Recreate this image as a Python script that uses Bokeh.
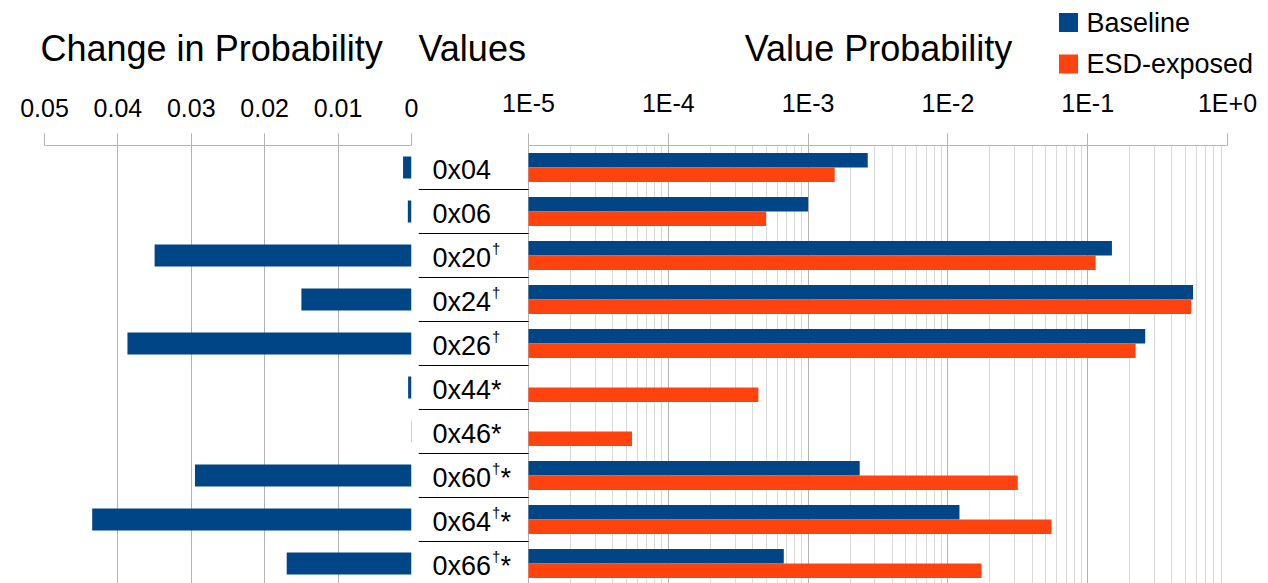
import numpy as np
from bokeh.plotting import figure
from bokeh.layouts import row, column
from bokeh.models import (ColumnDataSource, Range1d, FixedTicker, CustomJSTickFormatter)
from bokeh.transform import dodge
from bokeh.core.properties import value
from bokeh.embed import file_html
from bokeh.resources import INLINE

# ---------------- data ----------------
values = ["0x04", "0x06", "0x20", "0x24", "0x26", "0x44", "0x46", "0x60", "0x64", "0x66"]
dagger_marks = ["", "", "†", "†", "†", "", "", "†", "†", "†"]
star_marks = ["", "", "", "", "", "*", "*", "*", "*", "*"]
change_in_probability = [0.00115, 0.0005, 0.0350, 0.0150, 0.0387,
                         0.00046, 0.00006, 0.0295, 0.0435, 0.0170]
baseline_probability = [2.67e-3, 1.0e-3, 0.149, 0.567, 0.258,
                        0.0, 0.0, 2.34e-3, 0.0121, 6.7e-4]
esd_probability = [1.55e-3, 5.0e-4, 0.114, 0.550, 0.220,
                   4.41e-4, 5.5e-5, 0.0316, 0.0551, 0.0174]
change_ticks = [0.05, 0.04, 0.03, 0.02, 0.01, 0.0]
prob_ticks = [1e-5, 1e-4, 1e-3, 1e-2, 1e-1, 1e0]
series_names = ["Baseline", "ESD-exposed"]
panel_titles = ["Change in Probability", "Values", "Value Probability"]

# ---------------- style / layout ----------------
BLUE = "#004586"
ORANGE = "#ff420e"
SERIES_COLORS = [BLUE, ORANGE]
GRID = "#b3b3b3"
MINOR_GRID = "#d9d9d9"
FONT = "Liberation Sans"

CANVAS_W, CANVAS_H = 1268, 583
HEAD_H = 80                    # strip holding the panel titles and the key
TOP = 145                      # frame top on the page (px)
ROW_PX = 44                    # height of one value row
BODY_H = CANVAS_H - HEAD_H
FRAME_H = CANVAS_H - TOP
Y_TOP = -0.5
Y_BOTTOM = Y_TOP + FRAME_H / ROW_PX

LEFT_W, LEFT_MARGIN, LEFT_PAD = 418, 44, 7
RIGHT_W = CANVAS_W - LEFT_W
RIGHT_PAD = 41
RIGHT_FRAME_W = RIGHT_W - RIGHT_PAD
COLUMN_PX = 110                # value-label column inside the right frame
DECADES = np.log10(prob_ticks[-1]) - np.log10(prob_ticks[0])
DECADE_PX = (RIGHT_FRAME_W - COLUMN_PX) / DECADES
X_LO = 10 ** (np.log10(prob_ticks[0]) - COLUMN_PX / DECADE_PX)

n = len(values)
idx = list(range(n))


def style_axis(ax):
    ax.axis_line_color = GRID
    ax.major_tick_line_color = GRID
    ax.major_tick_out = 12
    ax.major_tick_in = 0
    ax.minor_tick_line_color = None
    ax.major_label_text_font = FONT
    ax.major_label_text_font_size = "25px"
    ax.major_label_text_color = "#000000"
    ax.major_label_standoff = 17


def bare(p):
    p.outline_line_color = None
    p.background_fill_color = "white"
    p.border_fill_color = "white"


# ---------------- heading strip: panel titles + series key ----------------
head = figure(width=CANVAS_W, height=HEAD_H,
              x_range=Range1d(0, CANVAS_W), y_range=Range1d(HEAD_H, 0),
              x_axis_location=None, y_axis_location=None,
              toolbar_location=None, output_backend="svg",
              min_border=0)
bare(head)
head.xgrid.visible = False
head.ygrid.visible = False
title_src = ColumnDataSource(dict(text=panel_titles[:2], x=[40, 418]))
head.text(x="x", y=61, text="text", source=title_src, y_offset=-13,
          text_font=value(FONT), text_font_size=value("36px"),
          text_align="left", text_baseline="alphabetic", text_color="#000000")
head.text(x=[878], y=61, text=[panel_titles[2]], y_offset=-13,
          text_font=value(FONT), text_font_size=value("36px"),
          text_align="center", text_baseline="alphabetic", text_color="#000000")

key_src = ColumnDataSource(dict(name=series_names, color=SERIES_COLORS,
                                y=[22, 63.5]))
head.scatter(x=1068, y="y", marker="square", size=19, source=key_src,
             fill_color="color", line_color=None)
head.text(x=1086, y="y", text="name", source=key_src, y_offset=0,
          text_font=value(FONT), text_font_size=value("27px"),
          text_align="left", text_baseline="alphabetic", text_color="#000000")

# ---------------- left: change in probability ----------------
left = figure(width=LEFT_W, height=BODY_H,
              x_range=Range1d(change_ticks[0], change_ticks[-1]),
              y_range=Range1d(Y_BOTTOM, Y_TOP),
              x_axis_location="above", y_axis_location=None,
              toolbar_location=None, output_backend="svg",
              min_border_left=LEFT_MARGIN, min_border_right=LEFT_PAD,
              min_border_top=TOP - HEAD_H, min_border_bottom=0)
bare(left)
left.xaxis.ticker = FixedTicker(ticks=change_ticks)
left.xaxis.formatter = CustomJSTickFormatter(
    code="return tick == 0 ? '0' : tick.toFixed(2);")
style_axis(left.xaxis[0])
left.xgrid.grid_line_color = GRID
left.ygrid.grid_line_color = None

change_src = ColumnDataSource(dict(idx=idx, change=change_in_probability))
left.hbar(y="idx", left=0, right="change", height=0.5, source=change_src,
          fill_color=BLUE, line_color=None)

# ---------------- right: value labels + value probability ----------------
right = figure(width=RIGHT_W, height=BODY_H, x_axis_type="log",
               x_range=Range1d(X_LO, prob_ticks[-1]),
               y_range=Range1d(Y_BOTTOM, Y_TOP),
               x_axis_location="above", y_axis_location=None,
               toolbar_location=None, output_backend="svg",
               min_border_left=0, min_border_right=RIGHT_PAD,
               min_border_top=TOP - HEAD_H, min_border_bottom=0)
bare(right)
minor = [m * 10.0 ** k for k in range(-5, 0) for m in range(2, 10)]
right.xaxis.ticker = FixedTicker(ticks=prob_ticks, minor_ticks=minor)
right.xaxis.formatter = CustomJSTickFormatter(code="""
    const e = Math.round(Math.log10(tick));
    return '1E' + (e < 0 ? '-' : '+') + Math.abs(e);
""")
right.xaxis.bounds = (prob_ticks[0], prob_ticks[-1])
style_axis(right.xaxis[0])
right.xgrid.grid_line_color = GRID
right.xgrid.minor_grid_line_color = MINOR_GRID
right.ygrid.grid_line_color = None

base_rows = [i for i in idx if baseline_probability[i] > 0]
esd_rows = [i for i in idx if esd_probability[i] > 0]
base_src = ColumnDataSource(dict(idx=base_rows,
                                 prob=[baseline_probability[i] for i in base_rows]))
esd_src = ColumnDataSource(dict(idx=esd_rows,
                                prob=[esd_probability[i] for i in esd_rows]))
right.hbar(y=dodge("idx", -0.165), left=prob_ticks[0], right="prob",
           height=0.33, source=base_src, fill_color=BLUE, line_color=None)
right.hbar(y=dodge("idx", 0.165), left=prob_ticks[0], right="prob",
           height=0.33, source=esd_src, fill_color=ORANGE, line_color=None)

# value labels in the column left of the log axis
LABEL_FS = 27
SUP_FS = 15
LABEL_X = -96                        # px left of the 1E-5 line
BASE_ADV = 2.168 * LABEL_FS          # advance of "0xNN"
SUP_ADV = 0.556 * SUP_FS
tail_dx = [LABEL_X + BASE_ADV + (SUP_ADV + 1 if d else 0) for d in dagger_marks]
label_src = ColumnDataSource(dict(idx=idx, base=values, sup=dagger_marks,
                                  tail=star_marks, tail_dx=tail_dx))
right.text(x=prob_ticks[0], y="idx", text="base", source=label_src,
           x_offset=LABEL_X, y_offset=2.5,
           text_font=value(FONT), text_font_size=value(f"{LABEL_FS}px"),
           text_align="left", text_baseline="alphabetic", text_color="#000000")
right.text(x=prob_ticks[0], y="idx", text="sup", source=label_src,
           x_offset=LABEL_X + BASE_ADV + 1, y_offset=-7,
           text_font=value(FONT), text_font_size=value(f"{SUP_FS}px"),
           text_align="left", text_baseline="alphabetic", text_color="#000000")
right.text(x=prob_ticks[0], y="idx", text="tail", source=label_src,
           x_offset="tail_dx", y_offset=2.5,
           text_font=value(FONT), text_font_size=value(f"{LABEL_FS}px"),
           text_align="left", text_baseline="alphabetic", text_color="#000000")

sep_y = [i + 0.5 for i in idx[:-1]]
right.segment(x0=X_LO, x1=prob_ticks[0], y0=sep_y, y1=sep_y,
              line_color="#000000", line_width=1)

layout = column(head, row(left, right))
open("out.html", "w").write(file_html(layout, INLINE))
